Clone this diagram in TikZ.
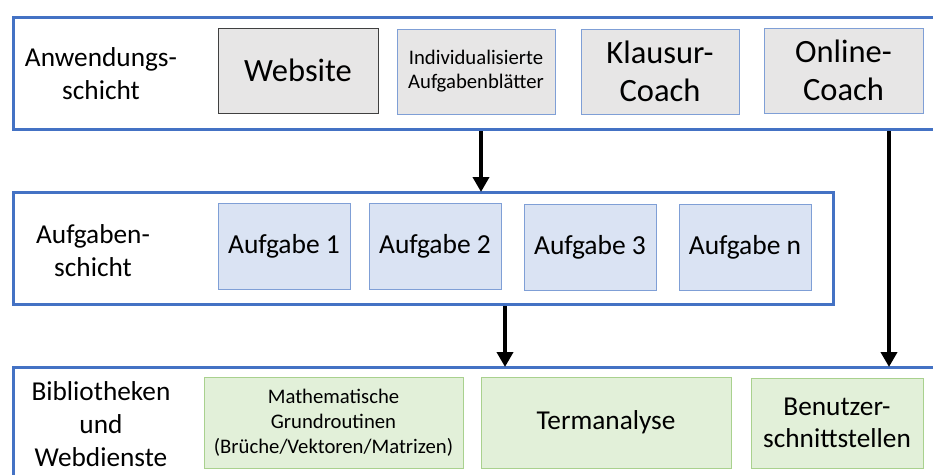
\documentclass[tikz,border=0pt]{standalone}
\usepackage{fontspec}
\setmainfont{Carlito}
\usetikzlibrary{arrows.meta}
\definecolor{layerblue}{HTML}{4472C4}
\definecolor{grayfill}{HTML}{E7E6E6}
\definecolor{grayedge}{HTML}{404040}
\definecolor{lightedge}{HTML}{7F9FD6}
\definecolor{bluefill}{HTML}{DAE3F3}
\definecolor{greenfill}{HTML}{E2F0D9}
\definecolor{greenedge}{HTML}{A9D18E}
\tikzset{
  layer/.style={draw=layerblue, line width=3pt, fill=none, inner sep=0pt},
  graybox/.style={draw=lightedge, line width=0.9pt, fill=grayfill, inner sep=0pt, align=center},
  bluebox/.style={draw=lightedge, line width=0.9pt, fill=bluefill, inner sep=0pt, align=center, font=\fontsize{27.5}{32}\selectfont},
  greenbox/.style={draw=greenedge, line width=0.9pt, fill=greenfill, inner sep=0pt, align=center},
  lbl/.style={align=center, inner sep=0pt, font=\fontsize{27.3}{33}\selectfont},
  arr/.style={line width=4.5pt, -{Triangle[width=16pt,length=15pt]}, black, shorten >=-1pt},
}
\begin{document}
\begin{tikzpicture}[x=1pt, y=-1pt]
\clip (0,0) rectangle (933,474);
\fill[white] (0,0) rectangle (933,474);
% layers
\node[layer, minimum width=940pt, minimum height=112.5pt, anchor=north west] (top) at (12,15.5) {};
\node[layer, minimum width=820pt, minimum height=112pt, anchor=north west] (mid) at (12,191) {};
\node[layer, minimum width=940pt, minimum height=140pt, anchor=north west] (bot) at (12,366) {};
% layer labels
\node[lbl] (l1) at (101,74) {Anwendungs-\\schicht};
\node[lbl] (l2) at (93,251) {Aufgaben-\\schicht};
\node[lbl] (l3) at (101,424) {Bibliotheken\\und\\Webdienste};
% top boxes
\node[graybox, draw=grayedge, minimum width=160pt, minimum height=85pt, font=\fontsize{32.5}{38}\selectfont] (web) at (298,70.5) {Website};
\node[graybox, minimum width=158pt, minimum height=85pt, font=\fontsize{20.7}{24}\selectfont] (ind) at (476,71.5) {Individualisierte\\Aufgabenblätter};
\node[graybox, minimum width=158pt, minimum height=85pt, font=\fontsize{32.5}{38}\selectfont] (kla) at (660,71.5) {Klausur-\\Coach};
\node[graybox, minimum width=159pt, minimum height=85pt, font=\fontsize{32.5}{38}\selectfont] (onl) at (843.5,70.5) {Online-\\Coach};
% middle boxes
\node[bluebox, minimum width=132pt, minimum height=86pt] (a1) at (284,246) {Aufgabe 1};
\node[bluebox, minimum width=132pt, minimum height=86pt] (a2) at (435,246) {Aufgabe 2};
\node[bluebox, minimum width=132pt, minimum height=86pt] (a3) at (590,247) {Aufgabe 3};
\node[bluebox, minimum width=132pt, minimum height=86pt] (an) at (745,247) {Aufgabe n};
% bottom boxes
\node[greenbox, minimum width=259pt, minimum height=91pt, font=\fontsize{20.7}{25}\selectfont] (mat) at (333.5,422.5) {Mathematische\\Grundroutinen\\(Brüche/Vektoren/Matrizen)};
\node[greenbox, minimum width=250pt, minimum height=91pt, font=\fontsize{27.3}{32}\selectfont] (ter) at (606,422.5) {Termanalyse};
\node[greenbox, minimum width=172pt, minimum height=90pt, font=\fontsize{27.3}{32}\selectfont] (ben) at (837,423) {Benutzer-\\schnittstellen};
% arrows
\coordinate (x1) at (481,0);
\coordinate (x2) at (505,0);
\coordinate (x3) at (889,0);
\draw[arr] (top.south -| x1) -- (mid.north -| x1);
\draw[arr] (mid.south -| x2) -- (bot.north -| x2);
\draw[arr] (top.south -| x3) -- (bot.north -| x3);
\end{tikzpicture}
\end{document}
